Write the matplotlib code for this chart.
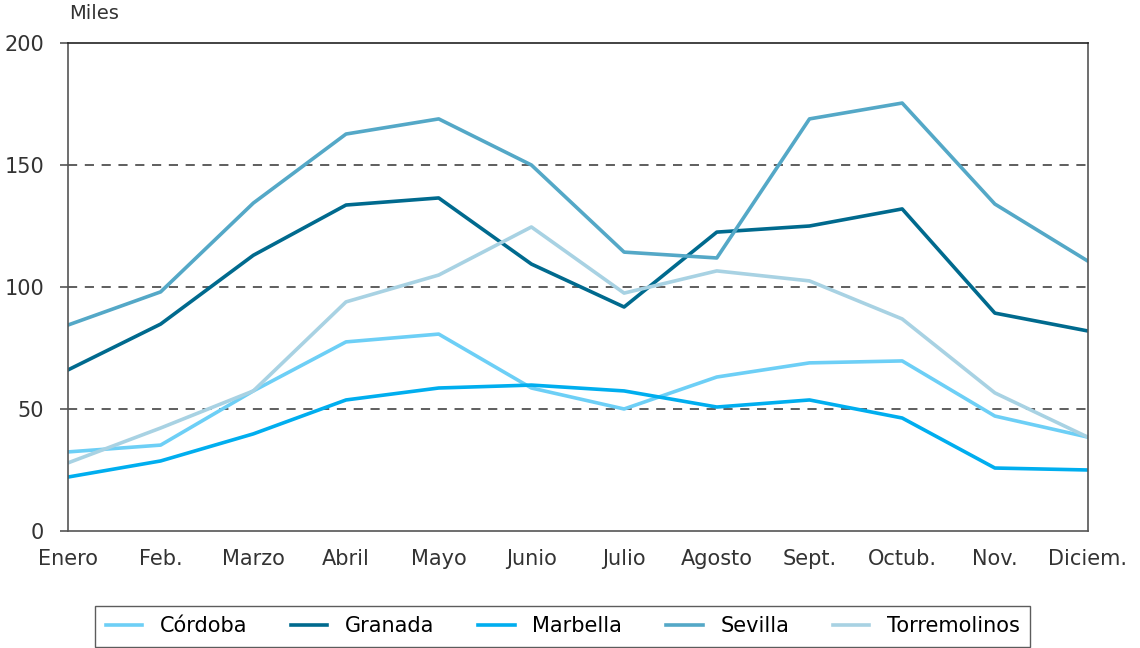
import matplotlib.pyplot as plt

meses = ["Enero", "Feb.", "Marzo", "Abril", "Mayo", "Junio", "Julio",
         "Agosto", "Sept.", "Octub.", "Nov.", "Diciem."]

cordoba = [32.4, 35.2, 57.4, 77.5, 80.7, 58.6, 50.0, 63.1, 68.9, 69.7, 47.1, 38.5]
granada = [66.0, 84.8, 113.0, 133.6, 136.5, 109.4, 91.8, 122.5, 125.0, 132.0, 89.3, 82.0]
marbella = [22.1, 28.7, 39.8, 53.7, 58.6, 59.8, 57.4, 50.8, 53.7, 46.3, 25.8, 25.0]
sevilla = [84.4, 98.0, 134.4, 162.7, 168.9, 150.0, 114.3, 111.9, 168.9, 175.4, 134.0, 110.7]
torremolinos = [27.9, 42.2, 57.4, 93.9, 104.9, 124.6, 97.5, 106.6, 102.5, 86.9, 56.6, 38.5]

series = [
    ("Córdoba", cordoba, "#6dcff6"),
    ("Granada", granada, "#006a8e"),
    ("Marbella", marbella, "#00aeef"),
    ("Sevilla", sevilla, "#54a8c7"),
    ("Torremolinos", torremolinos, "#a8d2e3"),
]

plt.rcParams['font.family'] = ['DejaVu Sans']

fig = plt.figure(figsize=(11.4, 6.48), dpi=100)
ax = fig.add_axes([0.0596, 0.1806, 0.8944, 0.753])

x = range(len(meses))
for nombre, vals, color in series:
    ax.plot(x, vals, color=color, lw=2.6, label=nombre)

ax.set_xlim(0, len(meses) - 1)
ax.set_ylim(0, 200)
ax.set_yticks([0, 50, 100, 150, 200])
ax.set_xticks(list(x))
ax.set_xticklabels(meses)
ax.set_xticks([0, len(meses) - 1], minor=True)
for v in [50, 100, 150]:
    ax.axhline(v, color="#333333", lw=1.1, ls=(0, (6, 5)), zorder=0)

for s in ax.spines.values():
    s.set_color("#555555")
    s.set_linewidth(1.2)
ax.spines['top'].set_color("#222222")
ax.tick_params(axis='y', colors="#555555", labelcolor="#333333",
               labelsize=15, length=6, width=1.2, direction='out', pad=11)
ax.tick_params(axis='x', which='major', length=0, labelcolor="#333333",
               labelsize=15, pad=13)
ax.tick_params(axis='x', which='minor', length=6, width=1.2, colors="#555555")

ax.text(0.001, 1.042, "Miles", transform=ax.transAxes, fontsize=14,
        color="#333333", ha='left', va='bottom')

leg = ax.legend(loc='upper center', bbox_to_anchor=(0.4853, -0.1537), ncol=5,
                fontsize=15, frameon=True, fancybox=False, handlelength=1.75,
                handletextpad=0.85, columnspacing=2.1, borderpad=0.5,
                borderaxespad=0)
leg.get_frame().set_edgecolor("#333333")
leg.get_frame().set_linewidth(1.0)

fig.savefig("out.png", dpi=100)
